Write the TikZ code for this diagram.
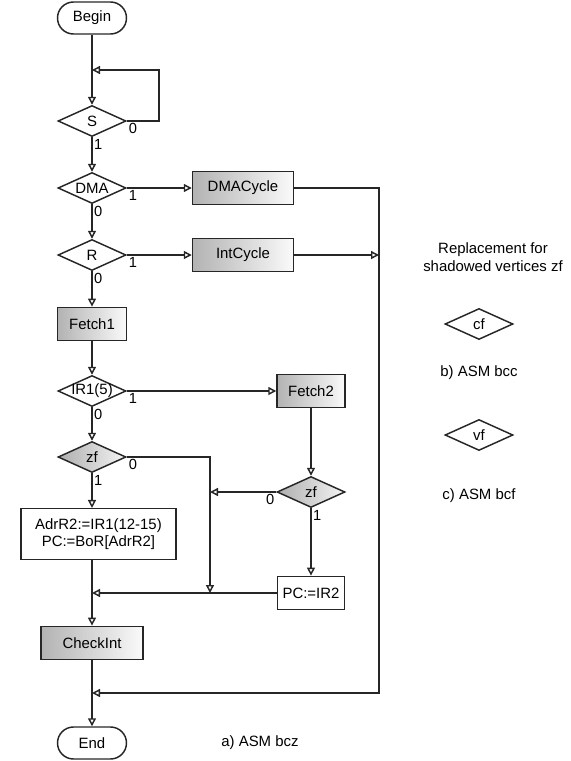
\documentclass[tikz,border=0pt]{standalone}
\usepackage{fontspec}
\setmainfont{Liberation Sans}
\usetikzlibrary{shapes.geometric,arrows.meta}

\tikzset{
  flow/.style={-{Triangle[fill=white,length=6pt,width=6pt]}},
  term/.style={draw, rounded corners=12pt, minimum width=51.75pt, minimum height=24pt, inner sep=0pt},
  stmt/.style={draw, minimum height=25pt, inner sep=1pt, align=center},
  shadedstmt/.style={stmt, left color=black!30, right color=black!2},
  cond/.style={draw, diamond, aspect=2.2, inner sep=-3pt, minimum width=51pt, minimum height=23.25pt},
  shadedcond/.style={cond, left color=black!32, right color=black!4},
  lbl/.style={inner sep=1pt, font=\fontsize{11}{12}\selectfont}
}

\begin{document}
\begin{tikzpicture}[x=0.75pt, y=-0.75pt, line width=1.1pt, draw=black!85,
  font=\fontsize{11.2}{13}\selectfont]
\useasboundingbox (0,0) rectangle (571,761);

% main chain
\node[term] (begin) at (92,18) {Begin};
\node[cond] (s) at (92,121) {S};
\node[cond] (dma) at (92,188) {DMA};
\node[cond] (r) at (92,255) {R};
\node[shadedstmt, minimum width=51.75pt] (fetch1) at (92,324) {Fetch1};
\node[cond] (ir) at (92,391) {IR1(5)};
\node[shadedcond] (zfa) at (92,457) {zf};
\node[stmt, minimum width=116pt, minimum height=38pt] (adr) at (98.5,534)
  {AdrR2:=IR1(12-15)\\PC:=BoR[AdrR2]};
\node[shadedstmt, minimum width=76.5pt] (check) at (92,643) {CheckInt};
\node[term] (end) at (92,743) {End};

% cycles
\node[shadedstmt, minimum width=75.75pt] (dmacyc) at (243,188) {DMACycle};
\node[shadedstmt, minimum width=75.75pt] (intcyc) at (243,255) {IntCycle};

% second fetch
\node[shadedstmt, minimum width=51pt] (fetch2) at (311,391) {Fetch2};
\node[shadedcond] (zfb) at (311,492) {zf};
\node[stmt, minimum width=50pt] (pcir) at (311,593) {PC:=IR2};

% junctions
\coordinate (sin) at (92,70);
\coordinate (sloop) at (159,121);
\coordinate (intin) at (379,255);
\coordinate (rbus) at (379,693);
\coordinate (endin) at (92,693);
\coordinate (midin) at (210,492);
\coordinate (midout) at (210,593);
\coordinate (leftin) at (92,593);

\draw[flow] (begin) -- (s.north);
\draw[flow] (s.east) -- (sloop) |- (sin);
\draw[flow] (s.south) -- (dma.north);
\draw[flow] (dma.east) -- (dmacyc.west);
\draw[flow] (dma.south) -- (r.north);
\draw[flow] (r.east) -- (intcyc.west);
\draw[flow] (r.south) -- (fetch1.north);
\draw[flow] (fetch1) -- (ir.north);
\draw[flow] (ir.east) -- (fetch2.west);
\draw[flow] (ir.south) -- (zfa.north);
\draw[flow] (zfa.south) -- (zfa.south |- adr.north);
\draw[flow] (zfa.east) -| (midout);
\draw[flow] (fetch2.south) -- (zfb.north);
\draw[flow] (zfb.west) -- (midin);
\draw[flow] (zfb.south) -- (pcir.north);
\draw[flow] (pcir.west) -- (leftin);
\draw[flow] (adr.south -| check) -- (check.north);
\draw[flow] (check) -- (end);
\draw[flow] (dmacyc.east) -| (rbus) -- (endin);
\draw[flow] (intcyc.east) -- (intin);

% branch labels
\node[lbl, anchor=north west] at (s.east) {0};
\node[lbl, anchor=north west] at (s.south) {1};
\node[lbl, anchor=north west] at (dma.east) {1};
\node[lbl, anchor=north west] at (dma.south) {0};
\node[lbl, anchor=north west] at (r.east) {1};
\node[lbl, anchor=north west] at (r.south) {0};
\node[lbl, anchor=north west] at (ir.east) {1};
\node[lbl, anchor=north west] at (ir.south) {0};
\node[lbl, anchor=north west] at (zfa.east) {0};
\node[lbl, anchor=north west] at (zfa.south) {1};
\node[lbl, anchor=north east] at (zfb.west) {0};
\node[lbl, anchor=north west] at (zfb.south) {1};

% captions and replacements
\node (capa) at (260,743) {a) ASM bcz};
\node[align=center] (note) at (493,257) {Replacement for\\shadowed vertices zf};
\node[cond] (cf) at (479,324) {cf};
\node (capb) at (479,373) {b) ASM bcc};
\node[cond] (vf) at (479,435) {vf};
\node (capc) at (479,496) {c) ASM bcf};
\end{tikzpicture}
\end{document}
